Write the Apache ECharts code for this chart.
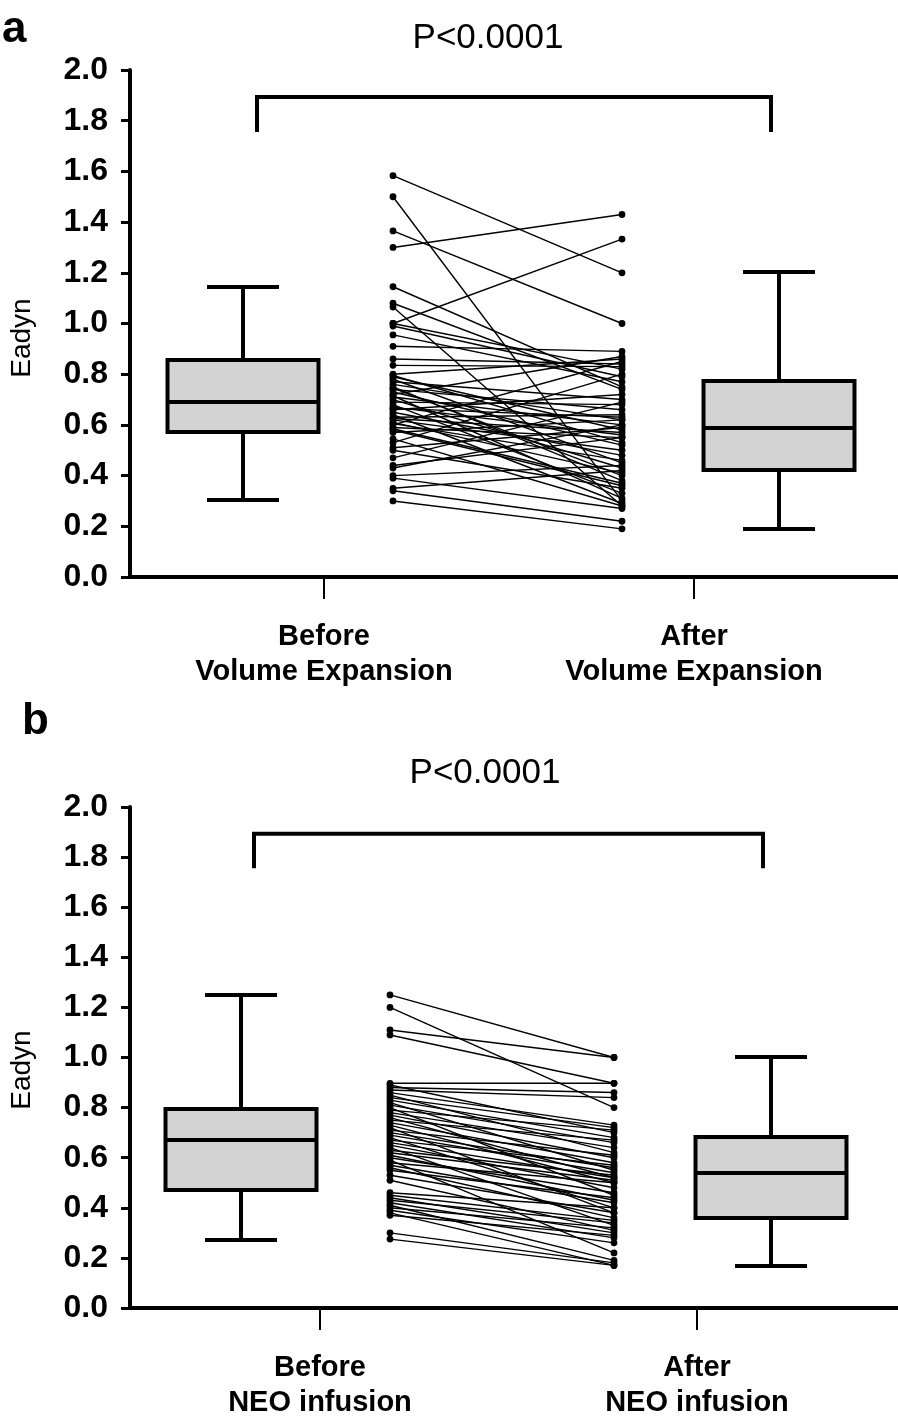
<!DOCTYPE html>
<html>
<head>
<meta charset="utf-8">
<script src="https://cdn.jsdelivr.net/npm/echarts@6/dist/echarts.min.js"></script>
<style>
  html, body { margin: 0; background: #fff; }
  #chart { width: 898px; height: 1420px; }
</style>
</head>
<body>
<div id="chart"></div>
<script>
const FONT = '"Liberation Sans", Arial, Helvetica, sans-serif';

// ---- data ----
const categoriesA = ['Before\nVolume Expansion', 'After\nVolume Expansion'];
const categoriesB = ['Before\nNEO infusion', 'After\nNEO infusion'];
const pValueText = 'P<0.0001';
const yAxisName = 'Eadyn';

// box stats: [whisker low, q1, median, q3, whisker high]
const boxBeforeA = [0.304, 0.572, 0.690, 0.856, 1.144];
const boxAfterA  = [0.189, 0.422, 0.588, 0.773, 1.203];
const boxBeforeB = [0.271, 0.471, 0.671, 0.794, 1.250];
const boxAfterB  = [0.168, 0.359, 0.539, 0.683, 1.002];

// paired values, panel a (volume expansion)
const beforeA = [1.583, 1.50, 1.365, 1.30, 1.145, 1.08, 1.065, 1.00, 1.00, 0.99, 0.955, 0.91, 0.86, 0.835,
  0.80, 0.795, 0.79, 0.78, 0.77, 0.76, 0.75, 0.745, 0.74, 0.73, 0.72, 0.715, 0.71, 0.70, 0.69, 0.68, 0.67,
  0.665, 0.66, 0.65, 0.64, 0.63, 0.625, 0.62, 0.61, 0.605, 0.60, 0.59, 0.585, 0.58, 0.57, 0.545, 0.53, 0.51,
  0.50, 0.47, 0.44, 0.43, 0.40, 0.39, 0.35, 0.34, 0.30];
const afterA = [1.20, 0.30, 1.00, 1.43, 0.75, 0.74, 0.28, 1.333, 0.82, 0.79, 0.77, 0.89, 0.84, 0.83,
  0.86, 0.53, 0.58, 0.45, 0.70, 0.62, 0.38, 0.40, 0.66, 0.52, 0.87, 0.31, 0.60, 0.43, 0.68, 0.33, 0.56,
  0.63, 0.72, 0.48, 0.29, 0.64, 0.57, 0.50, 0.41, 0.46, 0.85, 0.55, 0.37, 0.36, 0.62, 0.28, 0.80, 0.59,
  0.35, 0.69, 0.55, 0.60, 0.44, 0.27, 0.42, 0.22, 0.19];

// paired values, panel b (NEO infusion)
const beforeB = [1.25, 1.20, 1.11, 1.09, 0.897, 0.89, 0.88, 0.87, 0.86, 0.85, 0.84, 0.83, 0.82, 0.81, 0.80,
  0.79, 0.78, 0.77, 0.76, 0.75, 0.74, 0.73, 0.72, 0.71, 0.70, 0.69, 0.68, 0.67, 0.66, 0.65, 0.64, 0.63,
  0.62, 0.61, 0.60, 0.59, 0.58, 0.57, 0.56, 0.55, 0.53, 0.51, 0.46, 0.45, 0.44, 0.43, 0.42, 0.41, 0.40,
  0.39, 0.38, 0.37, 0.30, 0.275];
const afterB = [1.00, 0.80, 1.00, 0.897, 0.897, 0.70, 0.86, 0.84, 0.73, 0.62, 0.72, 0.68, 0.55, 0.66, 0.45,
  0.71, 0.64, 0.60, 0.52, 0.67, 0.58, 0.50, 0.38, 0.61, 0.56, 0.54, 0.40, 0.57, 0.52, 0.48, 0.33, 0.53,
  0.51, 0.43, 0.46, 0.22, 0.50, 0.42, 0.36, 0.44, 0.38, 0.31, 0.40, 0.35, 0.30, 0.34, 0.28, 0.19, 0.32,
  0.26, 0.17, 0.29, 0.18, 0.17];

// bracket heights (y values)
const bracketTop = 1.893;
const bracketFoot = 1.755;

// ---- layout (x axis in pixel-like units, 0..768 across the grid) ----
const X_MAX = 768;
const panels = [
  { top: 70, height: 507, box: [113, 649], pair: [263, 492], ticks: [194, 564], bracket: [127, 641],
    cats: categoriesA, boxes: [boxBeforeA, boxAfterA], before: beforeA, after: afterA },
  { top: 807, height: 501, box: [111, 641], pair: [260, 484], ticks: [190, 567], bracket: [124, 633],
    cats: categoriesB, boxes: [boxBeforeB, boxAfterB], before: beforeB, after: afterB }
];

function renderBox(params, api) {
  const c = api.value(0);
  const lo = api.value(1), q1 = api.value(2), med = api.value(3), q3 = api.value(4), hi = api.value(5);
  const half = 75.5, cap = 36;
  const p = (x, y) => api.coord([x, y]);
  const st = { stroke: '#000', lineWidth: 4, fill: null };
  const seg = (x1, y1, x2, y2) => {
    const a = p(x1, y1), b = p(x2, y2);
    return { type: 'line', shape: { x1: a[0], y1: a[1], x2: b[0], y2: b[1] }, style: st };
  };
  const tl = p(c - half, q3), br = p(c + half, q1);
  return {
    type: 'group',
    children: [
      seg(c, q3, c, hi),
      seg(c, q1, c, lo),
      seg(c - cap, hi, c + cap, hi),
      seg(c - cap, lo, c + cap, lo),
      { type: 'rect', shape: { x: tl[0], y: tl[1], width: br[0] - tl[0], height: br[1] - tl[1] },
        style: { fill: '#d3d3d3', stroke: '#000', lineWidth: 4 } },
      seg(c - half, med, c + half, med)
    ]
  };
}

function renderPair(params, api) {
  const a = api.coord([api.value(0), api.value(2)]);
  const b = api.coord([api.value(1), api.value(3)]);
  return {
    type: 'group',
    children: [
      { type: 'line', shape: { x1: a[0], y1: a[1], x2: b[0], y2: b[1] }, style: { stroke: '#000', lineWidth: 1.4 } },
      { type: 'circle', shape: { cx: a[0], cy: a[1], r: 3.4 }, style: { fill: '#000' } },
      { type: 'circle', shape: { cx: b[0], cy: b[1], r: 3.4 }, style: { fill: '#000' } }
    ]
  };
}

function renderBracket(params, api) {
  const x1 = api.value(0), x2 = api.value(1), top = api.value(2), foot = api.value(3);
  const pts = [api.coord([x1, foot]), api.coord([x1, top]), api.coord([x2, top]), api.coord([x2, foot])];
  return { type: 'polyline', shape: { points: pts }, style: { stroke: '#000', lineWidth: 4, fill: null } };
}

const grids = [], xAxes = [], yAxes = [], series = [];
panels.forEach((pn, i) => {
  grids.push({ left: 130, right: 0, top: pn.top, height: pn.height });
  xAxes.push({
    gridIndex: i, type: 'value', min: 0, max: X_MAX,
    splitLine: { show: false },
    axisLine: { show: true, lineStyle: { color: '#000', width: 4 } },
    axisTick: { show: true, customValues: pn.ticks, length: 22, lineStyle: { color: '#000', width: 2 } },
    axisLabel: {
      customValues: pn.ticks,
      formatter: v => pn.cats[pn.ticks.indexOf(v)] || '',
      margin: 42, color: '#000', fontFamily: FONT, fontWeight: 'bold', fontSize: 29, lineHeight: 35
    }
  });
  yAxes.push({
    gridIndex: i, type: 'value', min: 0, max: 2, interval: 0.2,
    splitLine: { show: false },
    axisLine: { show: true, lineStyle: { color: '#000', width: 4 } },
    axisTick: { show: true, length: 9, lineStyle: { color: '#000', width: 3 } },
    axisLabel: { formatter: v => v.toFixed(1), margin: 22, color: '#000', fontFamily: FONT, fontWeight: 'bold', fontSize: 32 }
  });
  series.push({
    type: 'custom', xAxisIndex: i, yAxisIndex: i, renderItem: renderBracket,
    encode: { x: [0, 1], y: [2, 3] },
    data: [[pn.bracket[0], pn.bracket[1], bracketTop, bracketFoot]], silent: true
  });
  series.push({
    type: 'custom', xAxisIndex: i, yAxisIndex: i, renderItem: renderBox,
    encode: { x: 0, y: [1, 2, 3, 4, 5] },
    data: pn.boxes.map((b, k) => [pn.box[k]].concat(b)), silent: true
  });
  series.push({
    type: 'custom', xAxisIndex: i, yAxisIndex: i, renderItem: renderPair,
    encode: { x: [0, 1], y: [2, 3] },
    data: pn.before.map((v, k) => [pn.pair[0], pn.pair[1], v, pn.after[k]]), silent: true
  });
});

const chart = echarts.init(document.getElementById('chart'), null, { renderer: 'canvas' });
chart.setOption({
  animation: false,
  backgroundColor: '#fff',
  grid: grids, xAxis: xAxes, yAxis: yAxes, series: series,
  graphic: [
    { type: 'text', left: 2, top: 8, style: { text: 'a', font: 'bold 44px ' + FONT, fill: '#000' } },
    { type: 'text', left: 22, top: 700, style: { text: 'b', font: 'bold 44px ' + FONT, fill: '#000' } },
    { type: 'text', x: 488, y: 38, style: { text: pValueText, font: '35px ' + FONT, fill: '#000', align: 'center', verticalAlign: 'middle' } },
    { type: 'text', x: 485, y: 773, style: { text: pValueText, font: '35px ' + FONT, fill: '#000', align: 'center', verticalAlign: 'middle' } },
    { type: 'text', x: 22, y: 338, rotation: Math.PI / 2, style: { text: yAxisName, font: '28px ' + FONT, fill: '#000', align: 'center', verticalAlign: 'middle' } },
    { type: 'text', x: 22, y: 1070, rotation: Math.PI / 2, style: { text: yAxisName, font: '28px ' + FONT, fill: '#000', align: 'center', verticalAlign: 'middle' } }
  ]
});
</script>
</body>
</html>
